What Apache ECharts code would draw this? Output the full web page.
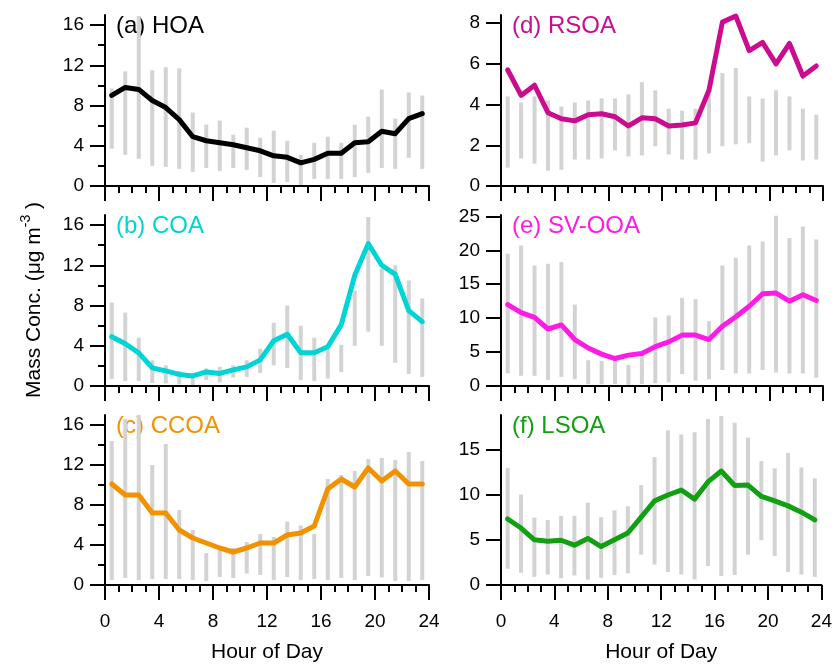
<!DOCTYPE html>
<html>
<head>
<meta charset="utf-8">
<script src="https://cdn.jsdelivr.net/npm/echarts@6/dist/echarts.min.js"></script>
<style>
  html, body { margin: 0; padding: 0; background: #fff; }
  #chart { width: 835px; height: 664px; }
</style>
</head>
<body>
<div id="chart"></div>
<script>
// Hour of day (bin centres)
const hours = [0.5, 1.5, 2.5, 3.5, 4.5, 5.5, 6.5, 7.5, 8.5, 9.5, 10.5, 11.5,
               12.5, 13.5, 14.5, 15.5, 16.5, 17.5, 18.5, 19.5, 20.5, 21.5, 22.5, 23.5];

// (a) HOA
const hoaMean = [9.0, 9.8, 9.6, 8.5, 7.8, 6.6, 4.9, 4.5, 4.3, 4.1, 3.8, 3.5, 3.0, 2.85, 2.3, 2.65, 3.25, 3.25, 4.3, 4.4, 5.45, 5.2, 6.7, 7.2];
const hoaHigh = [9.7, 11.4, 16.9, 11.5, 11.8, 11.7, 7.3, 6.1, 6.5, 5.1, 5.8, 4.8, 5.5, 4.5, 3.1, 4.3, 4.9, 4.3, 6.1, 6.9, 9.6, 6.7, 9.3, 9.0];
const hoaLow  = [3.7, 3.1, 2.7, 2.0, 1.9, 1.7, 1.4, 1.8, 1.5, 1.8, 1.6, 0.9, 0.3, 0.4, 0.1, 0.7, 0.7, 0.7, 0.9, 1.3, 1.8, 1.7, 2.8, 1.7];

// (b) COA
const coaMean = [4.9, 4.2, 3.3, 1.8, 1.5, 1.15, 1.0, 1.4, 1.25, 1.6, 1.9, 2.6, 4.5, 5.15, 3.3, 3.3, 3.9, 6.1, 11.0, 14.15, 12.0, 11.1, 7.5, 6.4];
const coaHigh = [8.3, 7.3, 4.8, 2.55, 2.05, 1.5, 1.1, 1.75, 1.9, 2.05, 2.55, 3.7, 6.3, 8.0, 6.0, 4.8, 3.8, 4.1, 9.5, 16.8, 11.7, 12.0, 10.5, 8.7];
const coaLow  = [0.7, 0.5, 0.5, 0.3, 0.25, 0.15, 0.1, 0.6, 0.35, 0.85, 0.9, 1.3, 2.05, 1.8, 0.6, 0.5, 0.75, 1.4, 4.0, 5.4, 4.0, 2.3, 1.2, 0.9];

// (c) CCOA
const ccoaMean = [10.1, 9.0, 9.0, 7.2, 7.2, 5.5, 4.7, 4.2, 3.7, 3.3, 3.7, 4.2, 4.2, 5.0, 5.2, 5.9, 9.6, 10.6, 9.8, 11.7, 10.4, 11.4, 10.1, 10.1];
const ccoaHigh = [14.4, 16.6, 17.0, 12.0, 14.1, 7.5, 5.5, 3.2, 3.6, 3.7, 4.3, 5.1, 4.8, 6.35, 5.95, 5.1, 10.6, 11.0, 11.4, 12.6, 12.7, 12.5, 13.3, 12.4];
const ccoaLow  = [0.5, 0.7, 0.5, 0.6, 0.6, 0.6, 0.5, 0.4, 0.8, 0.7, 1.15, 1.0, 0.5, 0.8, 0.5, 0.6, 0.5, 0.7, 0.5, 0.9, 0.75, 0.4, 0.4, 0.5];

// (d) RSOA
const rsoaMean = [5.7, 4.45, 4.95, 3.6, 3.3, 3.2, 3.5, 3.55, 3.4, 2.95, 3.35, 3.3, 2.95, 3.0, 3.1, 4.7, 8.05, 8.35, 6.65, 7.05, 6.0, 7.0, 5.4, 5.9];
const rsoaHigh = [4.4, 4.1, 4.4, 4.2, 3.9, 4.1, 4.2, 4.3, 4.3, 4.5, 5.1, 4.7, 3.8, 3.7, 3.8, 4.5, 5.55, 5.8, 4.4, 4.3, 4.7, 4.4, 3.8, 3.5];
const rsoaLow  = [0.9, 1.35, 1.1, 0.75, 0.8, 1.3, 1.3, 1.35, 1.75, 1.45, 1.5, 1.95, 1.55, 1.3, 1.3, 1.6, 1.95, 2.05, 2.1, 1.2, 1.5, 1.75, 1.25, 1.3];

// (e) SV-OOA
const svooaMean = [12.0, 10.8, 10.1, 8.4, 9.0, 6.85, 5.6, 4.7, 4.05, 4.55, 4.8, 5.8, 6.5, 7.5, 7.5, 6.85, 8.8, 10.2, 11.75, 13.6, 13.7, 12.5, 13.45, 12.6];
const svooaHigh = [19.5, 20.7, 17.75, 18.0, 18.25, 12.0, 3.8, 3.7, 4.0, 3.1, 4.7, 10.1, 10.4, 13.0, 12.8, 9.55, 17.75, 18.9, 20.7, 21.3, 25.1, 21.8, 23.5, 21.6];
const svooaLow  = [1.85, 1.5, 1.5, 0.9, 1.35, 1.0, 0.25, 0.25, 0.3, 0.15, 0.3, 0.4, 0.55, 1.75, 0.8, 1.0, 2.35, 1.85, 1.85, 2.35, 2.0, 1.85, 1.85, 1.2];

// (f) LSOA
const lsoaMean = [7.3, 6.3, 5.0, 4.85, 4.95, 4.4, 5.15, 4.25, 5.0, 5.75, 7.5, 9.3, 9.95, 10.5, 9.5, 11.4, 12.6, 11.0, 11.05, 9.8, 9.3, 8.75, 8.05, 7.2];
const lsoaHigh = [12.95, 10.0, 7.45, 7.2, 7.65, 7.65, 9.1, 7.5, 8.25, 8.7, 11.05, 14.15, 17.1, 16.65, 16.9, 18.35, 18.7, 17.95, 16.3, 13.7, 12.9, 14.6, 13.0, 11.8];
const lsoaLow  = [1.8, 1.35, 0.9, 1.15, 0.75, 1.05, 0.6, 0.8, 1.1, 1.3, 3.35, 2.25, 1.45, 1.15, 0.6, 2.1, 1.0, 1.1, 3.35, 4.95, 3.2, 1.45, 1.15, 0.9];

// Axis ticks
const xTicks = [0, 4, 8, 12, 16, 20, 24];
const yTicks4 = [0, 4, 8, 12, 16];
const yMinor4 = [2, 6, 10, 14];
const yTicksD = [0, 2, 4, 6, 8];
const yTicks5E = [0, 5, 10, 15, 20, 25];
const yTicks5F = [0, 5, 10, 15];

const FONT = '"Liberation Sans", Arial, Helvetica, sans-serif';

const panels = [
  { title: '(a) HOA',    color: '#000000', mean: hoaMean,   high: hoaHigh,   low: hoaLow,   max: 17,   ticks: yTicks4,  minor: yMinor4 },
  { title: '(b) COA',    color: '#00D4D4', mean: coaMean,   high: coaHigh,   low: coaLow,   max: 17,   ticks: yTicks4,  minor: yMinor4 },
  { title: '(c) CCOA',   color: '#F29200', mean: ccoaMean,  high: ccoaHigh,  low: ccoaLow,  max: 17,   ticks: yTicks4,  minor: yMinor4 },
  { title: '(d) RSOA',   color: '#CC0C8E', mean: rsoaMean,  high: rsoaHigh,  low: rsoaLow,  max: 8.4,  ticks: yTicksD,  minor: [] },
  { title: '(e) SV-OOA', color: '#FF1AE6', mean: svooaMean, high: svooaHigh, low: svooaLow, max: 25.2, ticks: yTicks5E, minor: [] },
  { title: '(f) LSOA',   color: '#12A012', mean: lsoaMean,  high: lsoaHigh,  low: lsoaLow,  max: 18.8, ticks: yTicks5F, minor: [] }
];

// Panel layout: two columns, three rows
const colLeft = [105, 501];
const colWidth = [324, 322];
const rowTop = [15, 215, 415];
const rowHeight = 171;

const grid = [], xAxis = [], yAxis = [], series = [], title = [];

panels.forEach((p, i) => {
  const col = i < 3 ? 0 : 1;
  const row = i % 3;
  const bottomRow = row === 2;
  grid.push({ left: colLeft[col], top: rowTop[row], width: colWidth[col], height: rowHeight });

  xAxis.push({
    type: 'value', gridIndex: i, min: 0, max: 24, interval: 4,
    axisLine: { show: true, onZero: false, lineStyle: { color: '#000', width: 2 } },
    axisTick: { show: true, length: 15, lineStyle: { color: '#000', width: 2 } },
    minorTick: { show: true, splitNumber: 4, length: 7, lineStyle: { color: '#000', width: 2 } },
    splitLine: { show: false },
    axisLabel: { show: bottomRow, fontSize: 19, color: '#000', fontFamily: FONT, margin: 27 },
    name: bottomRow ? 'Hour of Day' : '',
    nameLocation: 'middle', nameGap: 57,
    nameTextStyle: { fontSize: 21, color: '#000', fontFamily: FONT }
  });

  // labelled major ticks
  yAxis.push({
    type: 'value', gridIndex: i, min: 0, max: p.max,
    axisLine: { show: true, onZero: false, lineStyle: { color: '#000', width: 2 } },
    axisTick: { show: true, length: 15, customValues: p.ticks, lineStyle: { color: '#000', width: 2 } },
    axisLabel: { show: true, customValues: p.ticks, fontSize: 19, color: '#000', fontFamily: FONT, margin: 21 },
    splitLine: { show: false }
  });
  // short unlabelled ticks
  yAxis.push({
    type: 'value', gridIndex: i, min: 0, max: p.max, position: 'left',
    axisLine: { show: false },
    axisTick: { show: p.minor.length > 0, length: 7, customValues: p.minor.length ? p.minor : [0], lineStyle: { color: '#000', width: 2 } },
    axisLabel: { show: false },
    splitLine: { show: false }
  });

  title.push({
    text: p.title, left: colLeft[col] + 11, top: rowTop[row] - 1, padding: 0, z: 0,
    textStyle: { fontSize: 24, fontWeight: 'normal', color: p.color, fontFamily: FONT }
  });

  // grey range whiskers
  series.push({
    type: 'custom', xAxisIndex: i, yAxisIndex: 2 * i, z: 2,
    data: hours.map((h, k) => [h, p.low[k], p.high[k]]),
    encode: { x: 0, y: [1, 2] },
    renderItem: (params, api) => {
      const a = api.coord([api.value(0), api.value(1)]);
      const b = api.coord([api.value(0), api.value(2)]);
      return {
        type: 'line',
        shape: { x1: a[0], y1: a[1], x2: b[0], y2: b[1] },
        style: { stroke: '#D3D3D3', lineWidth: 4 }
      };
    }
  });
  // mean diurnal line
  series.push({
    type: 'line', xAxisIndex: i, yAxisIndex: 2 * i, z: 3,
    data: hours.map((h, k) => [h, p.mean[k]]),
    showSymbol: false, symbol: 'none',
    lineStyle: { color: p.color, width: 5, join: 'round', cap: 'round' }
  });
});

const chart = echarts.init(document.getElementById('chart'), null, { renderer: 'canvas' });
chart.setOption({
  animation: false,
  backgroundColor: '#fff',
  grid, xAxis, yAxis, series, title,
  graphic: [{
    type: 'text', x: 32, y: 300, rotation: Math.PI / 2,
    style: {
      text: '{n|Mass Conc. (μg m}{s|-3}{n| )}',
      textAlign: 'center', textVerticalAlign: 'middle',
      rich: {
        n: { fontSize: 21, fontFamily: FONT, fill: '#000', lineHeight: 26, verticalAlign: 'bottom' },
        s: { fontSize: 14, fontFamily: FONT, fill: '#000', lineHeight: 14, verticalAlign: 'top' }
      }
    }
  }]
});
</script>
</body>
</html>
